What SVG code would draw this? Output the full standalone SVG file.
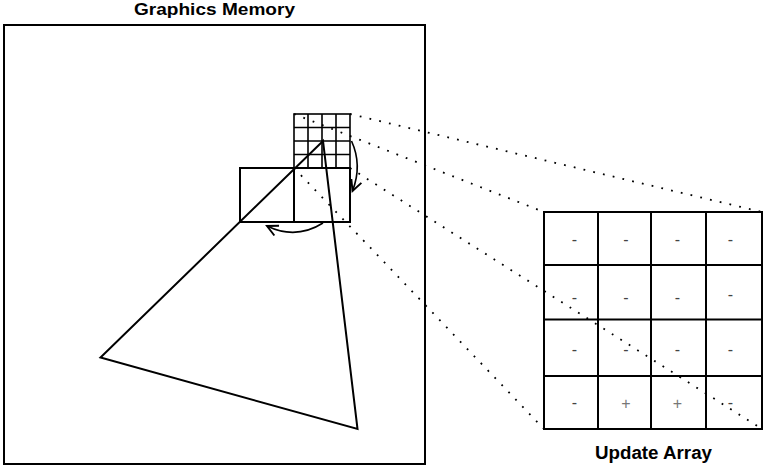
<svg xmlns="http://www.w3.org/2000/svg" width="768" height="476" viewBox="0 0 768 476">
<defs>
<style>
.ln{fill:none;stroke:#000;stroke-width:2}
.thin{fill:none;stroke:#000;stroke-width:1.6}
.dot{fill:none;stroke:#000;stroke-width:1.8;stroke-dasharray:1.8 8.2}
.title{font-family:"Liberation Sans",Arial,sans-serif;font-weight:bold;fill:#000;text-anchor:middle}
.sg{font-family:"Liberation Sans",Arial,sans-serif;font-size:16px;fill:#444;text-anchor:middle}
.pl{fill:#777}
</style>
<marker id="ah" markerUnits="userSpaceOnUse" markerWidth="14" markerHeight="14" refX="10" refY="5" orient="auto" viewBox="-1 -1 13 12">
<path d="M0,0 L10,5 L0,10" fill="none" stroke="#000" stroke-width="1.8"/>
</marker>
</defs>
<rect width="768" height="476" fill="#fff"/>
<g id="graphics-memory">
<rect class="ln" x="4" y="25" width="421" height="439"/>
<text class="title" x="214.5" y="15" font-size="17" textLength="161" lengthAdjust="spacingAndGlyphs">Graphics Memory</text>
</g>
<g id="small-grid">
<rect class="thin" x="294" y="114" width="56" height="54"/>
<path class="thin" d="M308,114V168M322,114V168M336,114V168M294,127.5H350M294,141H350M294,154.5H350"/>
</g>
<g id="left-block">
<rect class="ln" x="240" y="168" width="54" height="54"/>
</g>
<g id="right-block">
<rect class="ln" x="294" y="168" width="56" height="54"/>
</g>
<g id="triangle">
<path class="ln" d="M323,141 L100.5,357.5 L357.5,429 Z" stroke-linejoin="miter"/>
</g>
<g id="update-array">
<rect class="ln" x="544" y="212" width="218" height="217"/>
<path class="ln" d="M598,212V429M651,212V429M706,212V429M544,265H762M544,319.5H762M544,376H762"/>
<text class="sg" x="574.3" y="245">-</text>
<text class="sg" x="626" y="245">-</text>
<text class="sg" x="677.3" y="245">-</text>
<text class="sg" x="730.3" y="245">-</text>
<text class="sg" x="574.3" y="303.3">-</text>
<text class="sg" x="626" y="303.3">-</text>
<text class="sg" x="677.3" y="303.3">-</text>
<text class="sg" x="730.3" y="300">-</text>
<text class="sg" x="574.3" y="355">-</text>
<text class="sg" x="626" y="355">-</text>
<text class="sg" x="677.3" y="355">-</text>
<text class="sg" x="730.3" y="355">-</text>
<text class="sg" x="574.3" y="408">-</text>
<text class="sg pl" x="626" y="408.5">+</text>
<text class="sg pl" x="677.3" y="408.5">+</text>
<text class="sg" x="730.3" y="408">-</text>
<text class="title" x="653.5" y="459" font-size="18" textLength="117" lengthAdjust="spacingAndGlyphs">Update Array</text>
</g>
<g id="connectors">
<path class="dot" d="M350,114 L762,212"/>
<path class="dot" d="M294,114 L544,212"/>
<path class="dot" d="M350,168 L762,429"/>
<path class="dot" d="M294,168 L544,429"/>
<path class="thin" d="M351.5,141 Q362.5,165 352.5,191" marker-end="url(#ah)"/>
<path class="thin" d="M323,223 Q296,240 267,226" marker-end="url(#ah)"/>
</g>
</svg>
